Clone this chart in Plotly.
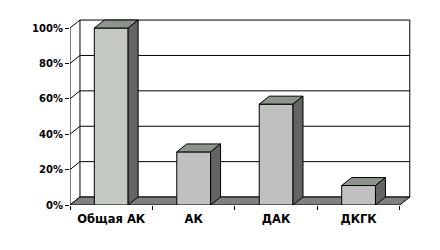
import plotly.graph_objects as go

categories = ["Общая АК", "АК", "ДАК", "ДКГК"]
values = [100, 30, 57, 11]
tick_vals = [0, 20, 40, 60, 80, 100]
tick_text = ["0%", "20%", "40%", "60%", "80%", "100%"]
front_colors = ["#C3C8C0", "#C0C0C0", "#C0C0C0", "#C0C0C0"]

# 3D depth offset (in axis units)
DX = 0.121
DY = 4.5
BW = 0.41

fig = go.Figure()
fig.add_trace(go.Bar(
    x=categories, y=values, width=BW,
    marker=dict(color=front_colors, line=dict(color="black", width=1)),
    hoverinfo="skip",
))

shapes = []
L, R = -0.5, len(categories) - 0.5


def poly(pts, fill, layer, lw=1):
    d = "M " + " L ".join(f"{x},{y}" for x, y in pts) + " Z"
    return dict(type="path", path=d, xref="x", yref="y", fillcolor=fill,
                line=dict(color="black", width=lw), layer=layer)


# back wall
shapes.append(poly([(L + DX, DY), (R + DX, DY), (R + DX, 100 + DY), (L + DX, 100 + DY)], "white", "below"))
# gridlines on back wall
for v in tick_vals[1:-1]:
    shapes.append(dict(type="line", xref="x", yref="y", x0=L + DX, x1=R + DX, y0=v + DY, y1=v + DY,
                       line=dict(color="black", width=1), layer="below"))
# diagonals on left wall
for v in tick_vals:
    shapes.append(dict(type="line", xref="x", yref="y", x0=L, x1=L + DX, y0=v, y1=v + DY,
                       line=dict(color="black", width=1), layer="below"))
# floor
shapes.append(poly([(L, 0), (R, 0), (R + DX, DY), (L + DX, DY)], "#808080", "below"))
# y axis line
shapes.append(dict(type="line", xref="x", yref="y", x0=L, x1=L, y0=0, y1=100,
                   line=dict(color="black", width=1), layer="above"))

# bar top and side faces
for i, v in enumerate(values):
    x0, x1 = i - BW / 2, i + BW / 2
    shapes.append(poly([(x0, v), (x1, v), (x1 + DX, v + DY), (x0 + DX, v + DY)], "#8C948C", "above"))
    shapes.append(poly([(x1, 0), (x1 + DX, DY), (x1 + DX, v + DY), (x1, v)], "#646464", "above"))

fig.update_layout(
    width=440, height=250,
    margin=dict(l=70, r=27, t=19, b=45, autoexpand=False),
    paper_bgcolor="white", plot_bgcolor="white",
    showlegend=False,
    shapes=shapes,
    font=dict(family="DejaVu Sans", color="black"),
    xaxis=dict(
        type="category", range=[-0.5, 3.66], tickson="boundaries",
        ticks="outside", ticklen=4, tickcolor="black",
        ticklabelstandoff=5,
        showgrid=False, showline=False, zeroline=False,
        tickfont=dict(size=11.5, family="DejaVu Sans", weight="bold"),
    ),
    yaxis=dict(
        range=[0, 105.1], tickvals=tick_vals, ticktext=tick_text,
        ticks="outside", ticklen=4, tickcolor="black",
        showgrid=False, showline=False, zeroline=False,
        tickfont=dict(size=10, family="DejaVu Sans", weight="bold"),
    ),
)

fig.write_html("out.html")
